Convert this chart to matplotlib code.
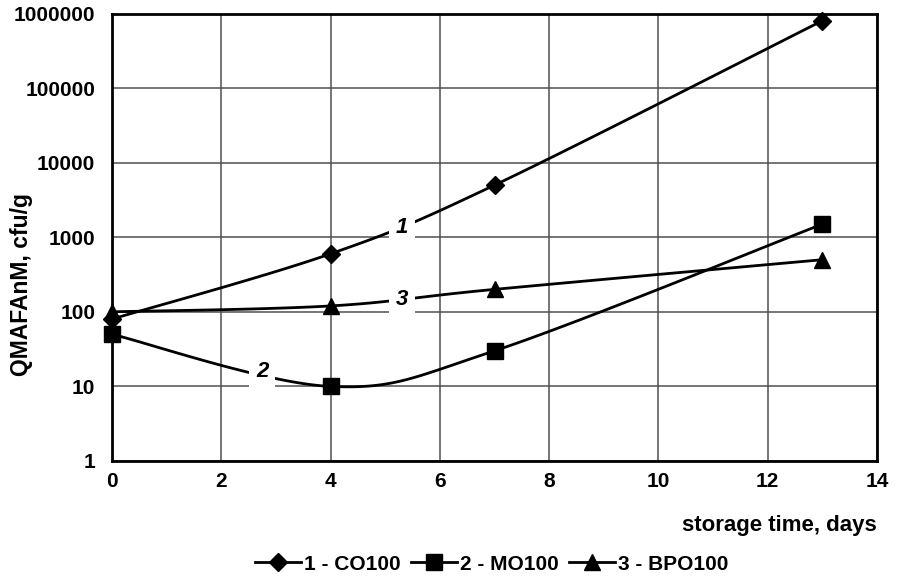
import numpy as np
import matplotlib
matplotlib.use("Agg")
import matplotlib.pyplot as plt

plt.rcParams['font.family'] = ['Liberation Sans', 'DejaVu Sans']
plt.rcParams['font.weight'] = 'bold'

days = [0, 4, 7, 13]
co100 = [80, 600, 5000, 800000]
mo100 = [50, 10, 30, 1500]
bpo100 = [100, 120, 200, 500]

series_names = ["1 - CO100", "2 - MO100", "3 - BPO100"]
series_markers = ["D", "s", "^"]
series_msize = [9, 11, 11]
curve_labels = ["1", "2", "3"]
label_pos = [(5.3, 1350), (2.75, 16), (5.3, 145)]


def smooth(x, y, n=40):
    # Excel-like smoothed line: Catmull-Rom in (x, log y) space
    x = np.asarray(x, float)
    ly = np.log10(np.asarray(y, float))
    px = np.concatenate([[x[0]], x, [x[-1]]])
    py = np.concatenate([[ly[0]], ly, [ly[-1]]])
    xs, ys = [], []
    for i in range(1, len(px) - 2):
        p0 = np.array([px[i - 1], py[i - 1]])
        p1 = np.array([px[i], py[i]])
        p2 = np.array([px[i + 1], py[i + 1]])
        p3 = np.array([px[i + 2], py[i + 2]])
        c1 = p1 + (p2 - p0) / 6
        c2 = p2 - (p3 - p1) / 6
        t = np.linspace(0, 1, n)[:, None]
        b = ((1 - t) ** 3 * p1 + 3 * (1 - t) ** 2 * t * c1
             + 3 * (1 - t) * t ** 2 * c2 + t ** 3 * p2)
        xs.extend(b[:, 0])
        ys.extend(b[:, 1])
    return np.array(xs), 10 ** np.array(ys)


fig = plt.figure(figsize=(8.99, 5.81), dpi=100)
ax = fig.add_axes([112 / 899, 1 - 461 / 581, 765 / 899, 447.5 / 581])

for vals, name, mk, ms in zip([co100, mo100, bpo100], series_names,
                              series_markers, series_msize):
    sx, sy = smooth(days, vals)
    ax.plot(sx, sy, color="black", lw=2, zorder=3)
    ax.plot(days, vals, linestyle="none", marker=mk, ms=ms, color="black",
            zorder=4, clip_on=False)
    ax.plot([], [], color="black", lw=2, marker=mk, ms=ms, label=name)

for txt, (lx, ly) in zip(curve_labels, label_pos):
    ax.text(lx, ly, txt, fontsize=16, fontweight="bold", style="italic",
            ha="center", va="center", zorder=5,
            bbox=dict(facecolor="white", edgecolor="none", pad=5))

ax.set_yscale("log")
ax.set_xlim(0, 14)
ax.set_ylim(1, 1000000)
ax.set_xticks(range(0, 15, 2))
ax.set_yticks([1, 10, 100, 1000, 10000, 100000, 1000000])
ax.set_yticklabels(["1", "10", "100", "1000", "10000", "100000", "1000000"])
ax.minorticks_off()
ax.tick_params(axis="both", labelsize=15, length=0)
ax.tick_params(axis="x", pad=8)
ax.tick_params(axis="y", pad=12)
for lbl in ax.get_xticklabels() + ax.get_yticklabels():
    lbl.set_fontweight("bold")

ax.grid(True, color="#505050", lw=1.1)
for sp in ax.spines.values():
    sp.set_linewidth(2)

fig.text(22 / 899, 1 - 285 / 581, "QMAFAnM, cfu/g", fontsize=16.5,
         fontweight="bold", rotation=90, ha="center", va="center")
fig.text(877 / 899, 1 - 525 / 581, "storage time, days", fontsize=16,
         fontweight="bold", ha="right", va="center")

fig.legend(loc="center", bbox_to_anchor=(492 / 899, 1 - 564 / 581), ncol=3,
           frameon=False, handlelength=2.2, columnspacing=0.5,
           handletextpad=0.15, prop={"weight": "bold", "size": 15})

fig.savefig("out.png", dpi=100)
